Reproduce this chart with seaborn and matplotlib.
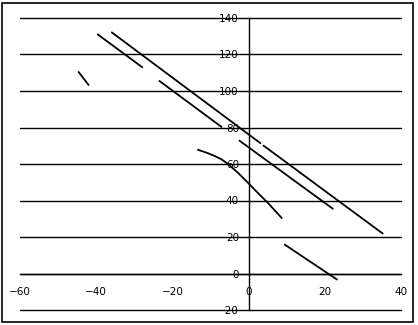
import matplotlib
matplotlib.use("Agg")
import matplotlib.pyplot as plt
import seaborn as sns
import pandas as pd
from matplotlib.patches import Rectangle

# ---- data ----
seg_a_x = [-44.6, -42.0]
seg_a_y = [110.4, 103.3]
seg_b_x = [-39.6, -27.9]
seg_b_y = [131.0, 113.0]
seg_c1_x = [-35.9, 3.1]
seg_c1_y = [132.1, 71.4]
seg_c2_x = [3.9, 35.2]
seg_c2_y = [70.1, 21.9]
seg_d_x = [-23.4, -7.1]
seg_d_y = [105.5, 80.3]
seg_e_x = [-2.4, 22.1]
seg_e_y = [72.8, 35.5]
curve_x = [-13.3, -10.9, -8.9, -7.0, -5.4, -2.8, -0.2, 2.4, 5.1, 8.7]
curve_y = [67.8, 66.1, 64.4, 62.4, 60.0, 55.2, 49.8, 44.2, 38.6, 30.4]
seg_g_x = [9.5, 23.2]
seg_g_y = [15.8, -3.3]

x_ticks = [-60, -40, -20, 0, 20, 40]
y_ticks = [-20, 0, 20, 40, 60, 80, 100, 120, 140]

segments = {
    "a": (seg_a_x, seg_a_y),
    "b": (seg_b_x, seg_b_y),
    "c1": (seg_c1_x, seg_c1_y),
    "c2": (seg_c2_x, seg_c2_y),
    "d": (seg_d_x, seg_d_y),
    "e": (seg_e_x, seg_e_y),
    "f": (curve_x, curve_y),
    "g": (seg_g_x, seg_g_y),
}
rows = []
for name, (xs, ys) in segments.items():
    for i, (xv, yv) in enumerate(zip(xs, ys)):
        rows.append({"seg": name, "order": i, "x": xv, "y": yv})
df = pd.DataFrame(rows)

sns.set_style("white")
plt.rcParams["font.family"] = ["DejaVu Sans"]

W, H = 418, 325
fig = plt.figure(figsize=(W / 100, H / 100), dpi=100)
ax = fig.add_axes([20 / W, (H - 310) / H, (401 - 20) / W, (310 - 18) / H])
ax.set_facecolor("none")

sns.lineplot(data=df, x="x", y="y", units="seg", estimator=None, sort=False,
             color="black", linewidth=1.3, ax=ax, zorder=3)

ax.set_xlim(-60, 40)
ax.set_ylim(-20, 140)
ax.set_xticks(x_ticks)
ax.set_yticks(y_ticks)
ax.set_xlabel("")
ax.set_ylabel("")

for s in ["top", "right"]:
    ax.spines[s].set_visible(False)
ax.spines["left"].set_position(("data", 0))
ax.spines["bottom"].set_position(("data", 0))
ax.spines["left"].set_color("black")
ax.spines["bottom"].set_color("black")
ax.spines["left"].set_linewidth(1.0)
ax.spines["bottom"].set_linewidth(1.0)

ax.yaxis.grid(True, color="black", linewidth=1.0)
ax.xaxis.grid(False)
ax.set_axisbelow(True)
for gl in ax.get_ygridlines():
    gl.set_clip_on(False)

ax.tick_params(axis="x", direction="in", length=4, width=1.0, color="black",
               pad=10, labelsize=7.5, labelcolor="black")
ax.tick_params(axis="y", length=0, pad=7, labelsize=7.5, labelcolor="black")
for lab in ax.get_xticklabels():
    lab.set_zorder(5)

fig.patches.append(Rectangle((2 / W, 3 / H), (413 - 2) / W, (322 - 3) / H,
                             transform=fig.transFigure, fill=False,
                             edgecolor="black", linewidth=1.2))

fig.savefig("out.png", dpi=100)
